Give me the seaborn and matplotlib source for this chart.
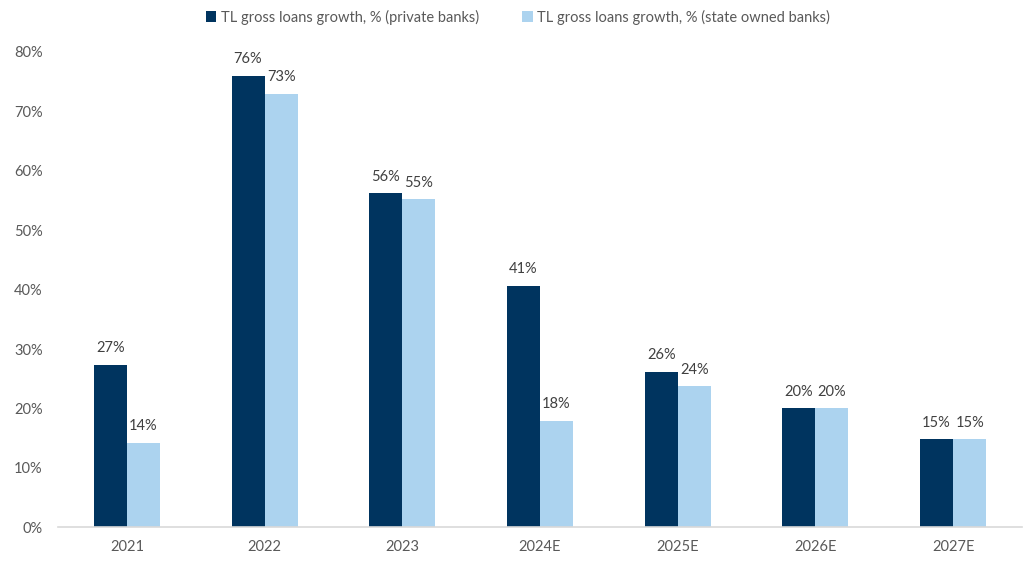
import matplotlib
matplotlib.use("Agg")
import matplotlib.pyplot as plt
import seaborn as sns
import pandas as pd

years = ["2021", "2022", "2023", "2024E", "2025E", "2026E", "2027E"]
private_banks = [27.3, 76.0, 56.2, 40.6, 26.2, 20.0, 14.8]
state_banks = [14.2, 72.9, 55.2, 17.9, 23.7, 20.0, 14.8]
series_names = ["TL gross loans growth, % (private banks)",
                "TL gross loans growth, % (state owned banks)"]
y_ticks = [0, 10, 20, 30, 40, 50, 60, 70, 80]

df = pd.DataFrame({
    "year": years * 2,
    "growth": private_banks + state_banks,
    "series": [series_names[0]] * len(years) + [series_names[1]] * len(years),
})

sns.set_theme(style="white")
plt.rcParams["font.family"] = ["Lato", "DejaVu Sans"]
text_color = "#595959"
palette = {series_names[0]: "#00345f", series_names[1]: "#acd3ef"}

fig = plt.figure(figsize=(10.26, 5.61), dpi=100)
ax = fig.add_axes([58 / 1026, 1 - 527.3 / 561, (1022 - 58) / 1026, (527.3 - 52) / 561])

sns.barplot(data=df, x="year", y="growth", hue="series", palette=palette,
            width=0.48, saturation=1, linewidth=0, ax=ax, legend=True)

for container in ax.containers:
    ax.bar_label(container, labels=[f"{v:.0f}%" for v in container.datavalues],
                 padding=7, fontsize=10.5, color="#404040")

ax.set_ylim(0, 80)
ax.set_yticks(y_ticks)
ax.set_yticklabels([f"{t}%" for t in y_ticks])
ax.set_xlim(-0.5, len(years) - 0.5)
ax.set_xlabel("")
ax.set_ylabel("")
for side in ["top", "right", "left"]:
    ax.spines[side].set_visible(False)
ax.spines["bottom"].set_color("#d9d9d9")
ax.spines["bottom"].set_linewidth(1.2)
ax.tick_params(axis="both", length=0, labelsize=10.5, labelcolor=text_color)
ax.tick_params(axis="y", pad=11)
ax.tick_params(axis="x", pad=9)

handles, labels = ax.get_legend_handles_labels()
ax.get_legend().remove()
fig.legend(handles, labels, loc="center", bbox_to_anchor=(518 / 1026, 1 - 17 / 561),
           ncol=2, frameon=False, fontsize=10.5, handlelength=0.7, handleheight=0.7,
           handletextpad=0.3, columnspacing=3.0, labelcolor=text_color)

fig.savefig("out.png", dpi=100)
